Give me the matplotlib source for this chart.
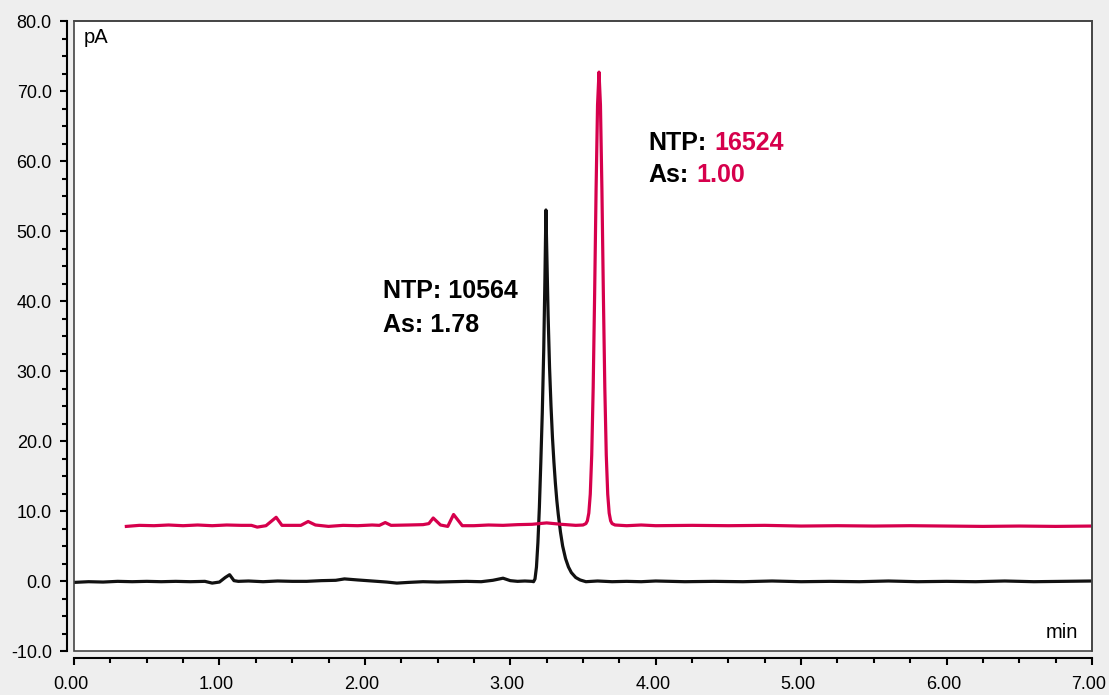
import matplotlib
matplotlib.use("Agg")
import matplotlib.pyplot as plt
import matplotlib.transforms as mtransforms
from matplotlib.patches import Rectangle
from matplotlib.ticker import MultipleLocator, FormatStrFormatter

# chromatogram traces (time in min, signal in pA)
black_t = [0.00, 0.10, 0.20, 0.30, 0.40, 0.50, 0.60, 0.70, 0.80, 0.90, 0.95, 1.00,
           1.04, 1.07, 1.10, 1.13, 1.20, 1.30, 1.40, 1.50, 1.60, 1.70, 1.80, 1.86,
           1.95, 2.05, 2.15, 2.22, 2.30, 2.40, 2.50, 2.60, 2.70, 2.80, 2.88, 2.95,
           3.00, 3.05, 3.10, 3.15, 3.16, 3.17, 3.18, 3.19, 3.20, 3.21, 3.22, 3.23,
           3.238, 3.245, 3.252, 3.26, 3.27, 3.28, 3.29, 3.30, 3.31, 3.32, 3.33,
           3.345, 3.36, 3.38, 3.40, 3.42, 3.45, 3.48, 3.52, 3.60, 3.70, 3.80, 3.90,
           4.00, 4.20, 4.40, 4.60, 4.80, 5.00, 5.20, 5.40, 5.60, 5.80, 6.00, 6.20,
           6.40, 6.60, 6.80, 7.00]
black_y = [-0.2, -0.1, -0.15, -0.05, -0.1, -0.05, -0.1, -0.05, -0.1, -0.05, -0.3, -0.15,
           0.5, 0.9, 0.05, -0.05, 0.0, -0.1, 0.0, -0.05, -0.05, 0.05, 0.1, 0.3,
           0.15, 0.0, -0.15, -0.3, -0.2, -0.1, -0.15, -0.1, -0.05, -0.1, 0.1, 0.4,
           0.05, -0.05, 0.0, -0.05, -0.1, 0.3, 2.0, 5.5, 10.5, 17.0, 24.0, 33.0,
           43.0, 53.0, 46.0, 38.0, 30.5, 25.0, 20.5, 17.0, 14.0, 11.5, 9.5,
           7.0, 5.0, 3.2, 2.0, 1.2, 0.5, 0.15, -0.1, 0.0, -0.1, -0.05, -0.1,
           0.0, -0.1, -0.05, -0.1, 0.0, -0.1, -0.05, -0.1, 0.0, -0.1, -0.05, -0.1,
           0.0, -0.1, -0.05, 0.0]

red_t = [0.36, 0.45, 0.55, 0.65, 0.75, 0.85, 0.95, 1.05, 1.15, 1.22, 1.26, 1.32,
         1.39, 1.43, 1.50, 1.56, 1.61, 1.66, 1.75, 1.85, 1.95, 2.05, 2.10, 2.14,
         2.18, 2.30, 2.40, 2.44, 2.47, 2.52, 2.57, 2.61, 2.67, 2.75, 2.85, 2.95,
         3.05, 3.15, 3.25, 3.35, 3.45, 3.50, 3.52, 3.53, 3.54, 3.55, 3.56, 3.57,
         3.58, 3.59, 3.60, 3.61, 3.62, 3.63, 3.64, 3.65, 3.66, 3.67, 3.68, 3.69,
         3.70, 3.72, 3.80, 3.90, 4.00, 4.25, 4.50, 4.75, 5.00, 5.25, 5.50, 5.75,
         6.00, 6.25, 6.50, 6.75, 7.00]
red_y = [7.8, 7.95, 7.9, 8.0, 7.9, 8.0, 7.9, 8.0, 7.95, 7.95, 7.7, 7.9,
         9.1, 7.95, 7.95, 7.95, 8.5, 8.0, 7.8, 7.95, 7.9, 8.0, 7.95, 8.35,
         7.95, 8.0, 8.05, 8.2, 9.0, 8.0, 7.8, 9.5, 7.9, 7.9, 8.0, 7.95,
         8.05, 8.1, 8.3, 8.1, 7.95, 8.0, 8.2, 8.6, 9.7, 12.4, 18.0, 27.6,
         41.0, 56.0, 68.0, 72.7, 68.0, 56.0, 41.0, 27.6, 18.0, 12.4, 9.7, 8.6,
         8.2, 8.0, 7.9, 8.0, 7.9, 7.95, 7.9, 7.95, 7.85, 7.9, 7.85, 7.9,
         7.85, 7.8, 7.85, 7.8, 7.85]

RED = "#d6004c"
plt.rcParams["font.family"] = ["Liberation Sans", "DejaVu Sans"]
plt.rcParams["axes.unicode_minus"] = False

W, H = 1109, 695
fig = plt.figure(figsize=(W / 100, H / 100), dpi=100, facecolor="#eeeeee")
ax = fig.add_axes([74 / W, 1 - 651 / H, (1092 - 74) / W, (651 - 21) / H])
ax.set_facecolor("white")

ax.plot(black_t, black_y, color="#111111", lw=2.3, solid_joinstyle="round")
ax.plot(red_t, red_y, color=RED, lw=2.3, solid_joinstyle="round")

ax.set_xlim(0, 7)
ax.set_ylim(-10, 80)
ax.xaxis.set_major_locator(MultipleLocator(1))
ax.xaxis.set_minor_locator(MultipleLocator(0.25))
ax.yaxis.set_major_locator(MultipleLocator(10))
ax.yaxis.set_minor_locator(MultipleLocator(2.5))
ax.xaxis.set_major_formatter(FormatStrFormatter("%.2f"))
ax.yaxis.set_major_formatter(FormatStrFormatter("%.1f"))

for s in ("left", "bottom"):
    ax.spines[s].set_position(("outward", 5))
    ax.spines[s].set_linewidth(1.5)
    ax.spines[s].set_color("black")
for s in ("top", "right"):
    ax.spines[s].set_linewidth(1.2)
    ax.spines[s].set_color("#444444")
ax.add_patch(Rectangle((0, 0), 1, 1, transform=ax.transAxes, fill=False,
                       edgecolor="#444444", lw=1.2, clip_on=False, zorder=5))

ax.tick_params(which="major", length=5, width=1.5, labelsize=13, color="black")
ax.tick_params(which="minor", length=3.5, width=1.5, color="black")
ax.tick_params(axis="x", which="major", pad=8)
ax.tick_params(axis="y", which="major", pad=6)

# x tick labels sit a little left of their ticks in the reference
shift = mtransforms.ScaledTranslation(-3 / 100, 0, fig.dpi_scale_trans)
for lab in ax.get_xticklabels():
    lab.set_transform(lab.get_transform() + shift)

ax.annotate("pA", xy=(0, 1), xycoords="axes fraction", xytext=(10, -7),
            textcoords="offset pixels", ha="left", va="top", fontsize=14.5)
ax.annotate("min", xy=(1, 0), xycoords="axes fraction", xytext=(-14, 9),
            textcoords="offset pixels", ha="right", va="bottom", fontsize=14.5)

# peak annotations
FS = 18
ax.text(2.127, 40.4, "NTP: 10564", fontsize=FS, fontweight="bold", va="baseline")
ax.text(2.127, 35.5, "As: 1.78", fontsize=FS, fontweight="bold", va="baseline")

t1 = ax.text(3.949, 61.5, "NTP:", fontsize=FS, fontweight="bold", va="baseline")
ax.annotate("16524", xy=(1, 0), xycoords=t1, xytext=(8, 0), textcoords="offset pixels",
            fontsize=FS, fontweight="bold", color=RED, va="bottom")
t2 = ax.text(3.949, 56.96, "As:", fontsize=FS, fontweight="bold", va="baseline")
ax.annotate("1.00", xy=(1, 0), xycoords=t2, xytext=(8, 0), textcoords="offset pixels",
            fontsize=FS, fontweight="bold", color=RED, va="bottom")

fig.savefig("out.png", dpi=100, facecolor=fig.get_facecolor())
